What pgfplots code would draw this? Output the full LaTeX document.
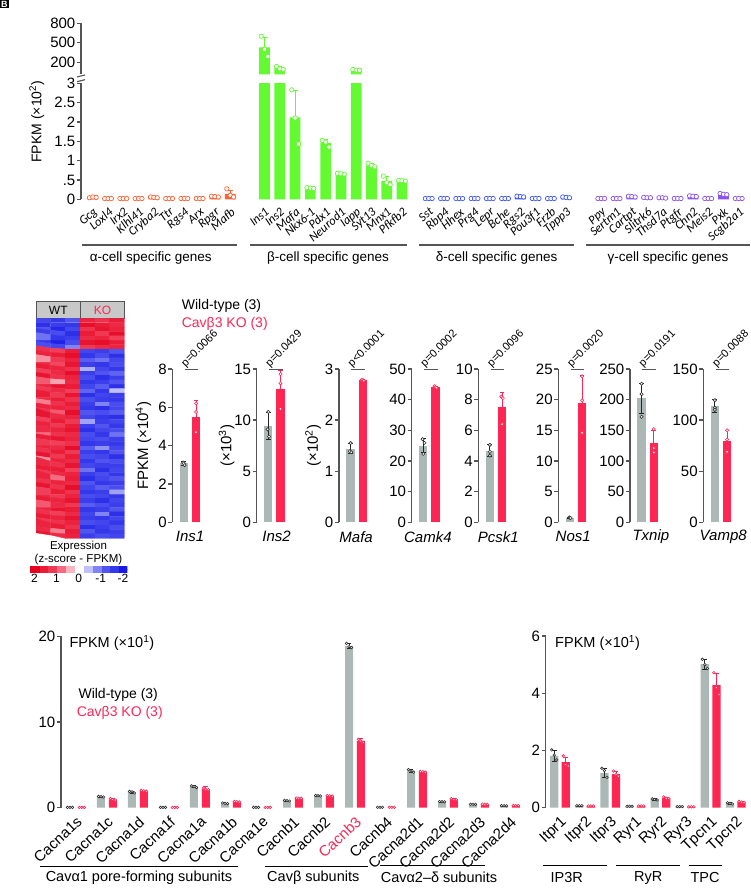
\documentclass[border=0pt]{standalone}
\usepackage{pgfplots}
\usepackage{pgfplotstable}
\pgfplotsset{compat=1.18}
\usepackage{fontspec}
\setmainfont{Liberation Sans}
\newfontfamily\carl{Carlito}
\newcommand\fs[1]{\fontsize{#1}{#1}\selectfont}
\definecolor{cA}{RGB}{255,98,52}
\definecolor{cB}{RGB}{100,250,50}
\definecolor{cD}{RGB}{62,88,255}
\definecolor{cG}{RGB}{138,82,238}
\definecolor{wt}{RGB}{172,184,182}
\definecolor{ko}{RGB}{255,38,84}
\definecolor{axc}{RGB}{85,85,85}
\definecolor{hdr}{RGB}{200,200,200}

\pgfplotsset{
  /pgf/number format/assume math mode=true,
  colormap={zs}{rgb255(0cm)=(25,25,230) rgb255(1cm)=(95,100,240) rgb255(2cm)=(255,255,255) rgb255(3cm)=(242,70,95) rgb255(4cm)=(228,0,30)},
  base/.style={scale only axis, anchor=south west,
    axis y line*=left, axis x line*=bottom,
    x axis line style={draw=none}, y axis line style={draw=axc, line width=1.2pt, -},
    ytick style={draw=axc, line width=1.2pt}, xtick style={draw=none},
    tick align=outside, major tick length=4pt, ymin=0,
    yticklabel style={font=\fs{15}, inner sep=1.5pt}},
  tp/.style={only marks, mark=*, mark size=2.2pt, mark options={fill=white, draw=#1, line width=0.7pt}},
  gb/.style={ybar, bar width=8.3pt, bar shift=0pt, fill=wt, draw=none,
    error bars/y dir=both, error bars/y explicit,
    error bars/error bar style={draw=black!85, line width=0.8pt},
    error bars/error mark options={draw=black!85, rotate=90, mark size=2.4pt, line width=0.8pt}},
  rb/.style={ybar, bar width=8.3pt, bar shift=0pt, fill=ko, draw=none,
    error bars/y dir=both, error bars/y explicit,
    error bars/error bar style={draw=ko, line width=0.8pt},
    error bars/error mark options={draw=ko, rotate=90, mark size=2.4pt, line width=0.8pt}},
  gp/.style={only marks, mark=*, mark size=1.6pt, mark options={fill=white, draw=black!80, line width=0.6pt}},
  rp/.style={only marks, mark=*, mark size=1.6pt, mark options={fill=white, draw=ko, line width=0.6pt}},
  mini/.style={base, width=31.1pt, height=153.3pt, xmin=0.05, xmax=2.6, xtick=\empty, clip=false,
    ylabel style={font=\fs{15}, anchor=center}},
}

% ---------- top panel data (FPKM x10^2) ----------
\pgfplotstableread{
x m e p1 p2 p3
0 0.05 0.01 0.04 0.06 0.05
1 0.02 0.005 0.02 0.02 0.02
2 0.02 0.005 0.02 0.02 0.02
3 0.02 0.005 0.02 0.02 0.02
4 0.05 0.01 0.06 0.05 0.04
5 0.02 0.005 0.02 0.02 0.02
6 0.02 0.005 0.02 0.02 0.02
7 0.02 0.005 0.02 0.02 0.02
8 0.07 0.01 0.08 0.07 0.06
9 0.14 0.09 0.27 0.10 0.06
}\tA
\pgfplotstableread{
x m e p1 p2 p3
11.25 430 150 600 400 290
12.25 108 25 135 100 90
13.25 2.12 0.7 2.83 2.10 1.43
14.25 0.29 0.03 0.30 0.29 0.28
15.25 1.45 0.10 1.52 1.48 1.35
16.25 0.66 0.02 0.67 0.66 0.65
17.25 82 8 88 80 78
18.25 0.88 0.05 0.93 0.87 0.84
19.25 0.47 0.12 0.60 0.43 0.38
20.25 0.48 0.02 0.49 0.48 0.47
}\tB
\pgfplotstableread{
x m e p1 p2 p3
22 0.02 0.005 0.02 0.02 0.02
23 0.02 0.005 0.02 0.02 0.02
24 0.02 0.005 0.02 0.02 0.02
25 0.02 0.005 0.02 0.02 0.02
26 0.02 0.005 0.02 0.02 0.02
27 0.02 0.005 0.02 0.02 0.02
28 0.07 0.01 0.08 0.07 0.06
29 0.02 0.005 0.02 0.02 0.02
30 0.02 0.005 0.02 0.02 0.02
31 0.05 0.01 0.06 0.05 0.04
}\tD
\pgfplotstableread{
x m e p1 p2 p3
33.3 0.02 0.005 0.02 0.02 0.02
34.3 0.02 0.005 0.02 0.02 0.02
35.3 0.07 0.01 0.08 0.07 0.06
36.3 0.04 0.01 0.05 0.04 0.04
37.3 0.04 0.01 0.04 0.04 0.03
38.3 0.02 0.005 0.02 0.02 0.02
39.3 0.08 0.01 0.09 0.08 0.07
40.3 0.02 0.005 0.02 0.02 0.02
41.3 0.13 0.02 0.15 0.13 0.12
42.3 0.02 0.005 0.02 0.02 0.02
}\tG

% ---------- bottom panel data (FPKM x10^1) ----------
\pgfplotstableread{
i gm ge g1 g2 g3 rm re r1 r2 r3
0 0.03 0.01 0.03 0.03 0.03 0.03 0.01 0.03 0.03 0.03
1 1.29 0.05 1.32 1.30 1.25 0.98 0.10 1.08 0.95 0.90
2 1.82 0.10 1.90 1.85 1.72 1.97 0.05 2.02 1.97 1.93
3 0.03 0.01 0.03 0.03 0.03 0.03 0.01 0.03 0.03 0.03
4 2.45 0.10 2.55 2.45 2.35 2.18 0.35 2.30 2.15 2.10
5 0.51 0.05 0.55 0.50 0.48 0.70 0.04 0.73 0.70 0.67
6 0.03 0.01 0.03 0.03 0.03 0.03 0.01 0.03 0.03 0.03
7 0.82 0.05 0.86 0.82 0.78 1.10 0.03 1.12 1.10 1.08
8 1.40 0.04 1.43 1.40 1.37 1.38 0.04 1.41 1.38 1.35
9 18.9 0.30 19.2 18.8 18.7 7.80 0.25 8.00 7.80 7.60
10 0.05 0.01 0.05 0.05 0.05 0.05 0.01 0.05 0.05 0.05
11 4.30 0.15 4.45 4.30 4.15 4.20 0.05 4.25 4.20 4.15
12 0.70 0.03 0.72 0.70 0.68 0.98 0.08 1.05 0.97 0.92
13 0.40 0.02 0.41 0.40 0.39 0.40 0.02 0.41 0.40 0.39
14 0.23 0.02 0.24 0.23 0.22 0.25 0.02 0.26 0.25 0.24
}\tL
\pgfplotstableread{
i gm ge g1 g2 g3 rm re r1 r2 r3
0 1.81 0.18 2.02 1.84 1.67 1.59 0.17 1.81 1.50 1.46
1 0.07 0.01 0.07 0.07 0.07 0.06 0.01 0.06 0.06 0.06
2 1.22 0.17 1.38 1.30 1.06 1.17 0.09 1.28 1.16 1.10
3 0.05 0.01 0.05 0.05 0.05 0.06 0.01 0.06 0.06 0.06
4 0.29 0.03 0.31 0.29 0.27 0.34 0.03 0.38 0.33 0.32
5 0.04 0.01 0.04 0.04 0.04 0.03 0.01 0.03 0.03 0.03
6 5.02 0.17 5.19 5.00 4.87 4.29 0.42 4.72 4.20 3.95
7 0.15 0.03 0.17 0.15 0.13 0.20 0.03 0.22 0.20 0.18
}\tR

% ---------- heatmap z-scores (6 samples per gene row) ----------
\pgfplotstableread[row sep=\\]{
z d\\
-1.4 0\\ -1.6 0\\ -1.2 0\\ 1.5 0\\ 1.3 0\\ 1.6 0\\
-1.7 0\\ -1.5 0\\ -1.6 0\\ 1.8 0\\ 1.6 0\\ 1.4 0\\
-1.2 0\\ -1.8 0\\ -1.4 0\\ 1.3 0\\ 1.7 0\\ 1.5 0\\
-1.5 0\\ -1.3 0\\ -1.7 0\\ 1.6 0\\ 1.2 0\\ 1.8 0\\
-0.9 0\\ -1.6 0\\ -1.5 0\\ 1.4 0\\ 1.5 0\\ 1.1 0\\
-1.6 0\\ -1.9 0\\ -1.3 0\\ 1.7 0\\ 1.8 0\\ 1.6 0\\
-1.3 0\\ -1.4 0\\ -0.8 0\\ 1.2 0\\ 1.4 0\\ 1.5 0\\
1.3 0\\ 1.1 0\\ 1.6 0\\ -1.4 0\\ -1.5 0\\ -1.2 0\\
1.5 0\\ 1.6 0\\ 1.8 0\\ -1.6 0\\ -1.3 0\\ -1.7 0\\
0.6 0\\ 1.2 0\\ 1.5 0\\ -1.1 0\\ -0.9 0\\ -1.4 0\\
1.4 0\\ 1.0 0\\ 1.7 0\\ -1.5 0\\ -1.6 0\\ -1.3 0\\
1.6 0\\ 1.5 0\\ 1.3 0\\ -0.5 0\\ -1.4 0\\ -1.6 0\\
1.1 0\\ 1.4 0\\ 1.8 0\\ -1.5 0\\ -1.2 0\\ -1.0 0\\
1.7 0\\ 1.3 0\\ 1.5 0\\ -1.3 0\\ -1.7 0\\ -1.5 0\\
0.9 0\\ 0.5 0\\ 1.4 0\\ -1.6 0\\ -1.5 0\\ -1.2 0\\
1.5 0\\ 1.7 0\\ 1.6 0\\ -1.4 0\\ -1.1 0\\ -1.7 0\\
1.2 0\\ 1.4 0\\ 1.1 0\\ -1.0 0\\ -1.6 0\\ -0.4 0\\
1.6 0\\ 1.2 0\\ 1.7 0\\ -1.7 0\\ -1.4 0\\ -1.5 0\\
1.4 0\\ 1.6 0\\ 1.3 0\\ -1.3 0\\ -1.5 0\\ -1.6 0\\
0.7 0\\ 1.3 0\\ 1.6 0\\ -1.5 0\\ -0.8 0\\ -1.3 0\\
1.5 0\\ 1.5 0\\ 1.4 0\\ -1.6 0\\ -1.7 0\\ -1.4 0\\
1.3 0\\ 0.9 0\\ 1.8 0\\ -1.2 0\\ -1.3 0\\ -1.1 0\\
1.7 0\\ 1.4 0\\ 1.5 0\\ -1.4 0\\ -1.6 0\\ -1.7 0\\
1.1 0\\ 1.6 0\\ 1.2 0\\ -0.6 0\\ -1.5 0\\ -1.4 0\\
1.5 0\\ 1.2 0\\ 1.6 0\\ -1.5 0\\ -1.2 0\\ -1.6 0\\
1.4 0\\ 1.5 0\\ 1.7 0\\ -1.7 0\\ -1.4 0\\ -1.3 0\\
0.8 0\\ 1.3 0\\ 1.4 0\\ -1.3 0\\ -1.6 0\\ -0.9 0\\
1.6 0\\ 1.7 0\\ 1.5 0\\ -1.4 0\\ -1.3 0\\ -1.5 0\\
1.2 0\\ 1.1 0\\ 1.3 0\\ -1.6 0\\ -1.5 0\\ -1.6 0\\
1.5 0\\ 1.4 0\\ 1.8 0\\ -1.1 0\\ -0.7 0\\ -1.4 0\\
1.3 0\\ 1.6 0\\ 1.2 0\\ -1.5 0\\ -1.6 0\\ -1.2 0\\
1.7 0\\ 1.2 0\\ 1.6 0\\ -1.3 0\\ -1.4 0\\ -1.7 0\\
0.6 0\\ 1.5 0\\ 1.4 0\\ -1.6 0\\ -1.2 0\\ -1.3 0\\
1.4 0\\ 1.3 0\\ 1.7 0\\ -1.4 0\\ -1.5 0\\ -1.5 0\\
1.6 0\\ 1.6 0\\ 1.1 0\\ -0.9 0\\ -1.7 0\\ -1.4 0\\
1.2 0\\ 1.4 0\\ 1.5 0\\ -1.5 0\\ -1.3 0\\ -1.6 0\\
1.5 0\\ 0.8 0\\ 1.6 0\\ -1.7 0\\ -1.4 0\\ -1.2 0\\
1.3 0\\ 1.5 0\\ 1.4 0\\ -1.2 0\\ -1.6 0\\ -1.5 0\\
1.7 0\\ 1.3 0\\ 1.8 0\\ -1.4 0\\ -1.1 0\\ -1.3 0\\
1.1 0\\ 1.6 0\\ 1.3 0\\ -1.6 0\\ -1.5 0\\ -0.6 0\\
1.4 0\\ 1.2 0\\ 1.5 0\\ -1.3 0\\ -1.4 0\\ -1.6 0\\
1.6 0\\ 1.5 0\\ 1.7 0\\ -1.5 0\\ -1.7 0\\ -1.4 0\\
0.9 0\\ 1.4 0\\ 1.2 0\\ -1.1 0\\ -1.3 0\\ -1.5 0\\
1.5 0\\ 1.7 0\\ 1.6 0\\ -1.6 0\\ -1.5 0\\ -1.2 0\\
1.3 0\\ 1.1 0\\ 1.4 0\\ -1.4 0\\ -0.8 0\\ -1.7 0\\
1.6 0\\ 1.5 0\\ 1.7 0\\ -1.5 0\\ -1.6 0\\ -1.4 0\\
1.2 0\\ 1.3 0\\ 1.5 0\\ -1.3 0\\ -1.4 0\\ -1.6 0\\
1.5 0\\ 1.6 0\\ 1.3 0\\ -1.7 0\\ -1.5 0\\ -1.3 0\\
1.4 0\\ 0.7 0\\ 1.6 0\\ -1.2 0\\ -1.6 0\\ -1.5 0\\
1.7 0\\ 1.4 0\\ 1.5 0\\ -1.5 0\\ -1.3 0\\ -1.4 0\\
}\hm

\newcommand\lowgrp[2]{%
 \addplot[ybar, bar width=10.7pt, bar shift=0pt, fill=#2, draw=none,
   error bars/y dir=both, error bars/y explicit,
   error bars/error bar style={draw=#2, line width=0.9pt},
   error bars/error mark options={draw=#2, rotate=90, mark size=2.6pt, line width=0.9pt}]
   table[x=x, y expr={min(\thisrow{m},3.3)}, y error expr={\thisrow{m}>3 ? 0 : \thisrow{e}}] {#1};
 \addplot[tp=#2, restrict y to domain=-1:3.05] table[x expr={\thisrow{x}-0.22}, y=p1] {#1};
 \addplot[tp=#2, restrict y to domain=-1:3.05] table[x=x, y=p2] {#1};
 \addplot[tp=#2, restrict y to domain=-1:3.05] table[x expr={\thisrow{x}+0.22}, y=p3] {#1};
}
\newcommand\upgrp[2]{%
 \addplot[ybar, bar width=10.7pt, bar shift=0pt, fill=#2, draw=none, restrict y to domain=15:1000,
   error bars/y dir=both, error bars/y explicit,
   error bars/error bar style={draw=#2, line width=0.9pt},
   error bars/error mark options={draw=#2, rotate=90, mark size=2.6pt, line width=0.9pt}]
   table[x=x, y=m, y error=e] {#1};
 \addplot[tp=#2, restrict y to domain=15:1000] table[x expr={\thisrow{x}-0.22}, y=p1] {#1};
 \addplot[tp=#2, restrict y to domain=15:1000] table[x=x, y=p2] {#1};
 \addplot[tp=#2, restrict y to domain=15:1000] table[x expr={\thisrow{x}+0.22}, y=p3] {#1};
}
\newcommand\botpair[4]{% table, offset, jitter, bar width
 \addplot[gb, bar width=#4] table[x expr={\thisrow{i}-#2}, y=gm, y error=ge] {#1};
 \addplot[rb, bar width=#4] table[x expr={\thisrow{i}+#2}, y=rm, y error=re] {#1};
 \addplot[gp, mark size=1.3pt] table[x expr={\thisrow{i}-#2-#3}, y=g1] {#1};
 \addplot[gp, mark size=1.3pt] table[x expr={\thisrow{i}-#2}, y=g2] {#1};
 \addplot[gp, mark size=1.3pt] table[x expr={\thisrow{i}-#2+#3}, y=g3] {#1};
 \addplot[rp, mark size=1.3pt] table[x expr={\thisrow{i}+#2-#3}, y=r1] {#1};
 \addplot[rp, mark size=1.3pt] table[x expr={\thisrow{i}+#2}, y=r2] {#1};
 \addplot[rp, mark size=1.3pt] table[x expr={\thisrow{i}+#2+#3}, y=r3] {#1};
}
\newcommand\pv[1]{%
 \draw[axc, line width=1.2pt] (axis description cs:0.40,0.995) -- (axis description cs:0.83,0.995);
 \node[font=\fs{11}, rotate=45, anchor=base west, inner sep=0pt] at (axis description cs:0.42,1.012) {#1};}
\newcommand\glab[2]{\node[font=\fs{15}\itshape, yshift=-14.4pt] at (axis description cs:#1,0) {#2};}

\begin{document}
\begin{tikzpicture}
\useasboundingbox (0pt,0pt) rectangle (750pt,888pt);
\node[fill=black, text=white, font=\bfseries\fs{9}, inner sep=1pt, anchor=north west] at (0pt,888pt) {B};

% ================= TOP PANEL =================
\begin{axis}[base, at={(81pt,813.7pt)}, width=668.4pt, height=51pt,
  xmin=-0.77, xmax=43, ymin=15, ymax=800, ytick={200,500,800}, xtick=\empty]
 \upgrp{\tB}{cB}
\end{axis}
\begin{axis}[base, at={(81pt,688.7pt)}, width=668.4pt, height=116pt,
  xmin=-0.77, xmax=43, ymax=3, ytick={0,0.5,1,1.5,2,2.5,3}, yticklabels={0,.5,1,1.5,2,2.5,3},
  xtick={0,1,2,3,4,5,6,7,8,9,
         11.25,12.25,13.25,14.25,15.25,16.25,17.25,18.25,19.25,20.25,
         22,23,24,25,26,27,28,29,30,31,
         33.3,34.3,35.3,36.3,37.3,38.3,39.3,40.3,41.3,42.3},
  xticklabels={Gcg,Loxl4,Irx2,Klhl41,Cryba2,Ttr,Rgs4,Arx,Rpgr,Mafb,
    Ins1,Ins2,Mafa,Nkx6-1,Pdx1,Neurod1,Iapp,Syt13,Mnx1,Pfkfb2,
    Sst,Rbp4,Hhex,Prg4,Lepr,Bche,Rgs2,Pou3f1,Frzb,Tppp3,
    Ppy,Sertm1,Cartpt,Slitrk6,Thsd7a,Ptgfr,Chn2,Meis2,Pxk,Scgb2a1},
  xticklabel style={font=\carl\itshape\fs{12.5}, yshift=-2pt, rotate=41, anchor=north east, inner sep=1pt}]
 \lowgrp{\tA}{cA}
 \lowgrp{\tB}{cB}
 \lowgrp{\tD}{cD}
 \lowgrp{\tG}{cG}
\end{axis}
\draw[axc, line width=1.1pt] (77pt,811pt) -- (85pt,813pt);
\draw[axc, line width=1.1pt] (77pt,806.3pt) -- (85pt,808.3pt);
\node[rotate=90, font=\fs{14}] at (36.7pt,766.3pt) {FPKM (×10\textsuperscript{2})};
\foreach \a/\b/\c/\t in {81.7/236.7/150.8/{α-cell specific genes}, 250/406.7/328/{β-cell specific genes},
   419.3/574/496.7/{δ-cell specific genes}, 586/750/668/{γ-cell specific genes}}{
  \draw[axc, line width=1.2pt] (\a pt,643pt) -- (\b pt,643pt);
  \node[font=\fs{13.5}] at (\c pt,630.3pt) {\t};
}

% ================= MIDDLE PANEL =================
\draw[fill=hdr, draw=axc, line width=0.8pt] (36pt,569.7pt) rectangle (80.7pt,586.3pt);
\draw[fill=hdr, draw=axc, line width=0.8pt] (80.7pt,569.7pt) rectangle (124.3pt,586.3pt);
\node[font=\fs{12}] at (58.3pt,578pt) {WT};
\node[font=\fs{12}, text=ko] at (102.5pt,578pt) {KO};
\begin{axis}[scale only axis, anchor=south west, at={(36pt,349.7pt)}, width=88.3pt, height=220pt,
  hide axis, xmin=-0.5, xmax=5.5, ymin=-0.5, ymax=49.5, y dir=reverse,
  colormap name=zs, point meta min=-2, point meta max=2]
 \addplot[matrix plot*, mesh/cols=6, point meta=explicit]
   table[x expr={mod(\coordindex,6)}, y expr={floor(\coordindex/6)}, meta=z] {\hm};
\end{axis}
\node[font=\fs{11.5}] at (78.5pt,341.3pt) {Expression};
\node[font=\fs{11.5}] at (78.5pt,328pt) {(z-score - FPKM)};
\begin{axis}[scale only axis, anchor=south west, at={(30pt,315.3pt)}, width=97.3pt, height=6pt,
  xmin=-2.2, xmax=2.2, x dir=reverse, ymin=-0.5, ymax=1.5, axis line style={draw=none},
  ytick=\empty, xtick={-2,-1,0,1,2}, xticklabels={-2,-1,0,1,2}, xtick style={draw=none},
  xticklabel style={font=\fs{12}, inner sep=1pt},
  colormap name=zs, point meta min=-2, point meta max=2]
 \addplot[matrix plot*, mesh/cols=11, point meta=explicit] coordinates {
  (-2,0)[-2] (-1.6,0)[-1.6] (-1.2,0)[-1.2] (-0.8,0)[-0.8] (-0.4,0)[-0.4] (0,0)[0]
  (0.4,0)[0.4] (0.8,0)[0.8] (1.2,0)[1.2] (1.6,0)[1.6] (2,0)[2]
  (-2,1)[-2] (-1.6,1)[-1.6] (-1.2,1)[-1.2] (-0.8,1)[-0.8] (-0.4,1)[-0.4] (0,1)[0]
  (0.4,1)[0.4] (0.8,1)[0.8] (1.2,1)[1.2] (1.6,1)[1.6] (2,1)[2]};
\end{axis}
\node[font=\fs{14}, anchor=west] at (178.3pt,582.3pt) {Wild-type (3)};
\node[font=\fs{14}, anchor=west, text=ko] at (178.3pt,564pt) {Cavβ3 KO (3)};

\begin{axis}[mini, at={(172.3pt,365.7pt)}, ymax=8, ytick={0,2,4,6,8},
  ylabel={FPKM (×10\textsuperscript{4})}, ylabel style={at={(axis description cs:-0.93,0.5)}}]
 \addplot[gb] coordinates {(1,3.08) +- (0,0.12)};
 \addplot[rb] coordinates {(2,5.51) +- (0,0.85)};
 \addplot[gp] coordinates {(0.94,3.12) (1,3.08) (1.06,2.98)};
 \addplot[rp] coordinates {(2,6.2) (2,5.76) (2,4.7)};
 \pv{p=0.0066}\glab{0.57}{Ins1}
\end{axis}
\begin{axis}[mini, at={(256.7pt,365.7pt)}, ymax=15, ytick={0,5,10,15},
  ylabel={(×10\textsuperscript{3})}, ylabel style={at={(axis description cs:-0.965,0.5)}}]
 \addplot[gb] coordinates {(1,9.42) +- (0,1.3)};
 \addplot[rb] coordinates {(2,13.07) +- (0,1.8)};
 \addplot[gp] coordinates {(1,10.8) (0.94,9.1) (1.06,8.38)};
 \addplot[rp] coordinates {(2,14.5) (2,13.6) (2,11.1)};
 \pv{p=0.0429}\glab{0.64}{Ins2}
\end{axis}
\begin{axis}[mini, at={(339pt,365.7pt)}, ymax=3, ytick={0,1,2,3},
  ylabel={(×10\textsuperscript{2})}, ylabel style={at={(axis description cs:-0.83,0.5)}}]
 \addplot[gb] coordinates {(1,1.44) +- (0,0.1)};
 \addplot[rb] coordinates {(2,2.78) +- (0,0.02)};
 \addplot[gp] coordinates {(1,1.55) (0.94,1.39) (1.06,1.37)};
 \addplot[rp] coordinates {(1.92,2.79) (2,2.78) (2.08,2.77)};
 \pv{p<0.0001}\glab{0.55}{Mafa}
\end{axis}
\begin{axis}[mini, at={(411.7pt,365.7pt)}, ymax=50, ytick={0,10,20,30,40,50}]
 \addplot[gb] coordinates {(1,25.0) +- (0,2.3)};
 \addplot[rb] coordinates {(2,44.1) +- (0,0.3)};
 \addplot[gp] coordinates {(0.94,27.1) (1.1,25.9) (1,22.3)};
 \addplot[rp] coordinates {(1.92,44.4) (2,44.1) (2.08,43.9)};
 \pv{p=0.0002}\glab{0.52}{Camk4}
\end{axis}
\begin{axis}[mini, at={(478.3pt,365.7pt)}, ymax=10, ytick={0,2,4,6,8,10}]
 \addplot[gb] coordinates {(1,4.67) +- (0,0.4)};
 \addplot[rb] coordinates {(2,7.55) +- (0,0.95)};
 \addplot[gp] coordinates {(1,5.05) (1,4.6) (1,4.35)};
 \addplot[rp] coordinates {(1.94,8.2) (2.06,8.1) (2,6.4)};
 \pv{p=0.0096}\glab{0.64}{Pcsk1}
\end{axis}
\begin{axis}[mini, at={(558.3pt,365.7pt)}, ymax=25, ytick={0,5,10,15,20,25}]
 \addplot[gb] coordinates {(1,0.75) +- (0,0.05)};
 \addplot[rb] coordinates {(2,19.4) +- (0,4.6)};
 \addplot[gp] coordinates {(0.94,0.8) (1,0.75) (1.06,0.7)};
 \addplot[rp] coordinates {(2,23.8) (2,19.9) (2,14.6)};
 \pv{p=0.0020}\glab{0.48}{Nos1}
\end{axis}
\begin{axis}[mini, at={(630pt,365.7pt)}, ymax=250, ytick={0,50,100,150,200,250}]
 \addplot[gb] coordinates {(1,202) +- (0,24)};
 \addplot[rb] coordinates {(2,129) +- (0,21)};
 \addplot[gp] coordinates {(1,226) (1,209) (1,172)};
 \addplot[rp] coordinates {(2,152) (2,121) (2,114)};
 \pv{p=0.0191}\glab{0.67}{Txnip}
\end{axis}
\begin{axis}[mini, at={(703.3pt,365.7pt)}, ymax=150, ytick={0,50,100,150}]
 \addplot[gb] coordinates {(1,114) +- (0,6)};
 \addplot[rb] coordinates {(2,80) +- (0,10)};
 \addplot[gp] coordinates {(1,119.5) (1,112) (1,110)};
 \addplot[rp] coordinates {(2,90) (2,81) (2,69)};
 \pv{p=0.0088}\glab{0.64}{Vamp8}
\end{axis}

% ================= BOTTOM PANEL =================
\begin{axis}[base, at={(61pt,80.3pt)}, width=464.4pt, height=171.2pt,
  xmin=-0.48, xmax=14.5, ymax=20, ytick={0,10,20},
  xtick={0,1,2,3,4,5,6,7,8,9,10,11,12,13,14},
  xticklabels={Cacna1s,Cacna1c,Cacna1d,Cacna1f,Cacna1a,Cacna1b,Cacna1e,Cacnb1,Cacnb2,
    \textcolor{ko}{Cacnb3},Cacnb4,Cacna2d1,Cacna2d2,Cacna2d3,Cacna2d4},
  xticklabel style={font=\fs{15}, yshift=-2pt, rotate=43, anchor=north east, inner sep=1pt}]
 \botpair{\tL}{0.19}{0.08}{8pt}
\end{axis}
\begin{axis}[base, at={(545.7pt,80.3pt)}, width=202.6pt, height=171.6pt,
  xmin=-0.57, xmax=7.5, ymax=6, ytick={0,2,4,6},
  xtick={0,1,2,3,4,5,6,7},
  xticklabels={Itpr1,Itpr2,Itpr3,Ryr1,Ryr2,Ryr3,Tpcn1,Tpcn2},
  xticklabel style={font=\fs{15}, yshift=-2pt, rotate=43, anchor=north east, inner sep=1pt}]
 \botpair{\tR}{0.23}{0.1}{8.3pt}
\end{axis}
\node[font=\fs{14.5}, anchor=west] at (66pt,244.7pt) {FPKM (×10\textsuperscript{1})};
\node[font=\fs{14.5}, anchor=west] at (551.7pt,244.7pt) {FPKM (×10\textsuperscript{1})};
\node[font=\fs{14}, anchor=west] at (75pt,193pt) {Wild-type (3)};
\node[font=\fs{14}, anchor=west, text=ko] at (73.3pt,174.7pt) {Cavβ3 KO (3)};
\foreach \a/\b/\yy in {40/238.3/21.3, 265/368.3/21.3, 380/485/22.3, 542.7/607.3/22.3, 616/680/22.3, 689.3/721.7/22.3}{
  \draw[black, line width=1.2pt] (\a pt,\yy pt) -- (\b pt,\yy pt);
}
\node[font=\fs{14.5}] at (139pt,10.3pt) {Cavα1 pore-forming subunits};
\node[font=\fs{14.5}] at (313.3pt,10.3pt) {Cavβ subunits};
\node[font=\fs{14.5}] at (439pt,10.3pt) {Cavα2–δ subunits};
\node[font=\fs{14.5}] at (566.7pt,10pt) {IP3R};
\node[font=\fs{14.5}] at (648.3pt,10pt) {RyR};
\node[font=\fs{14.5}] at (705pt,10pt) {TPC};
\end{tikzpicture}
\end{document}
